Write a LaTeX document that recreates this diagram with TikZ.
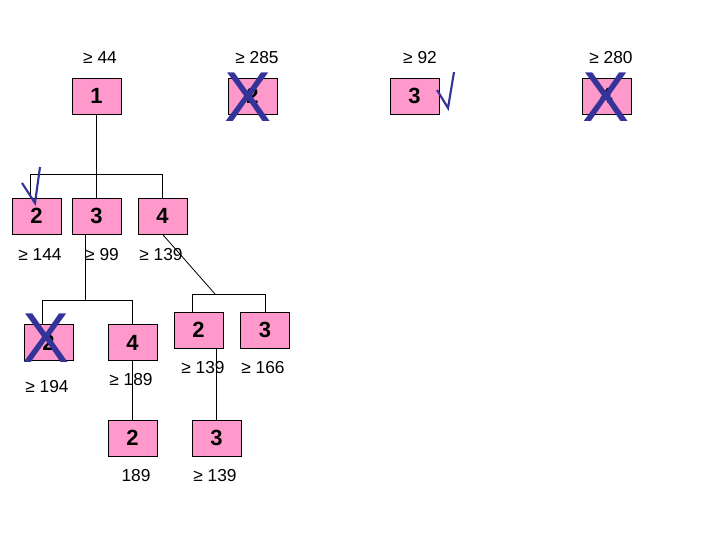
\documentclass[tikz,border=0pt]{standalone}
\usepackage{fontspec}
\setmainfont{Liberation Sans}
\definecolor{pinkc}{HTML}{FF99CC}
\definecolor{markc}{HTML}{333399}
\begin{document}
\begin{tikzpicture}[x=0.75pt,y=-0.75pt,
  box/.style={draw=black,fill=pinkc,minimum width=36.75pt,minimum height=27pt,inner sep=0pt,font=\fontsize{16.5}{18}\selectfont\bfseries},
  lab/.style={inner sep=0pt,font=\fontsize{13}{15}\selectfont},
  xmark/.style={inner sep=0pt,text=markc,font=\fontsize{53}{53}\selectfont},
  chk/.style={draw=markc,line width=1.6pt,line join=miter},
  conn/.style={draw=black,line width=0.6pt}]
\useasboundingbox (0,0) rectangle (720,540);
% top row
\node[box] (b1) at (96.5,96) {1};
\node[box] (b2t) at (252.5,96) {2};
\node[box] (b3t) at (414.5,96) {3};
\node[box] (b4t) at (606.5,96) {4};
\node[lab] (l44) at (100,58) {≥ 44};
\node[lab] (l285) at (257,58) {≥ 285};
\node[lab] (l92) at (420,58) {≥ 92};
\node[lab] (l280) at (611,58) {≥ 280};
% row 2
\node[box] (r2a) at (36.5,216) {2};
\node[box] (r2b) at (96.5,216) {3};
\node[box] (r2c) at (162.5,216) {4};
\node[lab] (l144) at (40,255) {≥ 144};
\node[lab] (l99) at (102,255) {≥ 99};
\node[lab] (l139a) at (161,255) {≥ 139};
% row 3
\node[box] (r3a) at (48.5,342.5) {2};
\node[box] (r3b) at (132.5,342.5) {4};
\node[box] (r3c) at (198.5,330) {2};
\node[box] (r3d) at (265,330) {3};
\node[lab] (l194) at (47,387) {≥ 194};
\node[lab] (l189a) at (131,380) {≥ 189};
\node[lab] (l139b) at (203,368) {≥ 139};
\node[lab] (l166) at (263,368) {≥ 166};
% row 4
\node[box] (r4a) at (132.5,438) {2};
\node[box] (r4b) at (216.5,438) {3};
\node[lab] (l189b) at (136,476) {189};
\node[lab] (l139c) at (215,476) {≥ 139};
% connectors
\coordinate (j1) at (96.5,174);
\draw[conn] (b1.south) -- (r2b.north);
\draw[conn] ([xshift=-4.875pt]r2a.north) |- (j1 -| r2c.north) -- (r2c.north);
\coordinate (j2) at (85,300);
\draw[conn] (r2b.south -| j2) -- (j2);
\draw[conn] ([xshift=-4.875pt]r3a.north) |- (j2 -| r3b.north) -- (r3b.north);
\coordinate (j3) at (215,294);
\draw[conn] (r2c.south) -- (j3);
\draw[conn] ([xshift=-4.875pt]r3c.north) |- (j3 -| r3d.north) -- (r3d.north);
\draw[conn] (r3b.south) -- (r4a.north);
\draw[conn] (r4b.north |- r3c.south) -- (r4b.north);
% marks
\node[xmark] (x1) at (248.5,97.5) {X};
\node[xmark] (x2) at (606,97.5) {X};
\node[xmark] (x3) at (46,338) {X};
\draw[chk] (437,90) -- (448,108) -- (454,72);
\draw[chk] (22,183) -- (35,203) -- (40,167);
\end{tikzpicture}
\end{document}
